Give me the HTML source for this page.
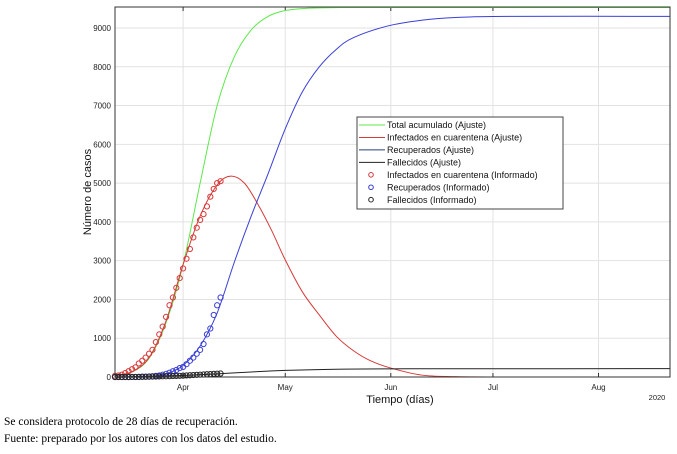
<!DOCTYPE html>
<html><head><meta charset="utf-8"><style>
body{margin:0;background:#fff;width:677px;height:454px;overflow:hidden;font-family:"Liberation Sans",sans-serif}
.cap{position:absolute;left:4px;font-family:"Liberation Serif",serif;font-size:11.5px;color:#000}
</style></head><body>
<svg id="chart" width="677" height="454" style="position:absolute;left:0;top:0"></svg>
<div class="cap" style="top:416px">Se considera protocolo de 28 días de recuperación.</div>
<div class="cap" style="top:433px">Fuente: preparado por los autores con los datos del estudio.</div>
<script>
const yTicks=[0,1000,2000,3000,4000,5000,6000,7000,8000,9000];
const xTickDays=[0,30,61,91,122];
const xTickLabels=["Apr","May","Jun","Jul","Aug"];
const totalDays=[-20,-15,-10,-5,0,5,10,15,20,25,30,35,40,50,60,143];
const totalVals=[30,130,480,1400,2900,5000,7000,8250,8950,9300,9450,9500,9520,9530,9530,9530];
const infDays=[-20,-15,-10,-5,0,5,10,14,18,22,26,30,35,40,45,50,55,61,70,80,95,143];
const infVals=[30,140,500,1450,2900,4150,4950,5180,5000,4450,3780,3020,2200,1600,1050,680,420,230,50,10,0,0];
const recDays=[-20,-10,-5,0,5,10,15,20,25,30,35,40,45,50,60,70,80,95,143];
const recVals=[0,10,80,300,800,1650,2950,4150,5250,6400,7350,8000,8450,8750,9050,9200,9270,9300,9300];
const deadDays=[-20,0,10,20,30,45,61,80,143];
const deadVals=[0,40,80,130,170,200,210,213,215];
const obsDays=[-20,-19,-18,-17,-16,-15,-14,-13,-12,-11,-10,-9,-8,-7,-6,-5,-4,-3,-2,-1,0,1,2,3,4,5,6,7,8,9,10,11];
const obsInf=[30,40,60,100,150,200,250,350,420,500,600,700,900,1100,1300,1550,1850,2050,2300,2550,2800,3050,3300,3600,3850,4050,4200,4400,4650,4850,5000,5050];
const obsRec=[0,0,0,0,0,0,0,0,10,10,15,20,30,40,60,80,110,150,180,230,260,330,420,500,600,700,850,1100,1250,1600,1850,2050];
const obsDead=[0,0,0,0,0,1,2,3,4,5,7,10,12,15,18,20,22,25,28,30,35,40,45,50,55,60,65,70,75,80,85,90];

const L=115,R=670,T=7,B=377;
const sx=d=>L+(d+20)*(R-L)/163;
const sy=v=>B-v*(B-28)/9000;
const svg=document.getElementById('chart');
const NS='http://www.w3.org/2000/svg';
function mk(t,a,txt){const e=document.createElementNS(NS,t);for(const k in a)e.setAttribute(k,a[k]);if(txt!==undefined)e.textContent=txt;svg.appendChild(e);return e;}
let e;
e=mk('rect',{x:L,y:T,width:R-L,height:B-T,fill:'#fff',stroke:'none'});

yTicks.forEach(v=>{
 e=mk('line',{x1:L,x2:R,y1:sy(v),y2:sy(v),stroke:'#e2e2e2','stroke-width':1});
 
 e=mk('text',{x:L-4,y:sy(v)+3,'text-anchor':'end','font-size':8,fill:'#222'},v);
 
});
xTickDays.forEach((d,i)=>{
 e=mk('line',{x1:sx(d),x2:sx(d),y1:T,y2:B,stroke:'#e2e2e2','stroke-width':1});
 
 e=mk('line',{x1:sx(d),x2:sx(d),y1:B,y2:B-4,stroke:'#333'});
 
 e=mk('line',{x1:sx(d),x2:sx(d),y1:T,y2:T+4,stroke:'#333'});
 
 e=mk('text',{x:sx(d),y:390,'text-anchor':'middle','font-size':8,fill:'#222'},xTickLabels[i]);
 
});
function path(xs,ys){
 const p=xs.map((d,i)=>[sx(d),sy(ys[i])]);
 let s='M'+p[0][0]+','+p[0][1];
 for(let i=0;i<p.length-1;i++){
  const p0=p[Math.max(0,i-1)],p1=p[i],p2=p[i+1],p3=p[Math.min(p.length-1,i+2)];
  const c1=[p1[0]+(p2[0]-p0[0])/6,p1[1]+(p2[1]-p0[1])/6],c2=[p2[0]-(p3[0]-p1[0])/6,p2[1]-(p3[1]-p1[1])/6];
  s+=`C${c1[0]},${c1[1]} ${c2[0]},${c2[1]} ${p2[0]},${p2[1]}`;
 }
 return s;
}
[[totalDays,totalVals,'#5de84a','total-fit-line'],[infDays,infVals,'#d63a3a','infected-fit-line'],[recDays,recVals,'#3a3fd6','recovered-fit-line'],[deadDays,deadVals,'#222','deceased-fit-line']].forEach(s=>{
 e=mk('path',{d:path(s[0],s[1]),fill:'none',stroke:s[2],'stroke-width':1});
 
});
[[obsInf,'#d63a3a','infected-observed-point'],[obsRec,'#3a3fd6','recovered-observed-point'],[obsDead,'#222','deceased-observed-point']].forEach(s=>{
 obsDays.forEach((d,i)=>{
  e=mk('circle',{cx:sx(d),cy:sy(s[0][i]),r:2.6,fill:'none',stroke:s[1],'stroke-width':1});
  
 });
});
e=mk('rect',{x:L,y:T,width:R-L,height:B-T,fill:'none',stroke:'#333','stroke-width':1});

e=mk('text',{x:400,y:403,'text-anchor':'middle','font-size':11,fill:'#111'},'Tiempo (días)');

e=mk('text',{x:657,y:400,'text-anchor':'middle','font-size':7.5,fill:'#222'},'2020');

e=mk('text',{x:91,y:192,'text-anchor':'middle','font-size':11,fill:'#111',transform:'rotate(-90 91 192)'},'Número de casos');

e=mk('rect',{x:357,y:117,width:206,height:92,fill:'#fff',stroke:'#444','stroke-width':1});

const leg=[['Total acumulado (Ajuste)','#5de84a',0],['Infectados en cuarentena (Ajuste)','#d63a3a',0],['Recuperados (Ajuste)','#2a3f7a',0],['Fallecidos (Ajuste)','#222',0],['Infectados en cuarentena (Informado)','#d63a3a',1],['Recuperados (Informado)','#3a3fd6',1],['Fallecidos  (Informado)','#222',1]];
leg.forEach((l,i)=>{
 const y=125+i*12.45;
 if(l[2]) e=mk('circle',{cx:371,cy:y,r:2.3,fill:'none',stroke:l[1]});
 else e=mk('line',{x1:359,x2:385,y1:y,y2:y,stroke:l[1]});
 
 e=mk('text',{x:387,y:y+3.2,'font-size':9,fill:'#111','xml:space':'preserve'},l[0]);
 
});
</script>
</body></html>
